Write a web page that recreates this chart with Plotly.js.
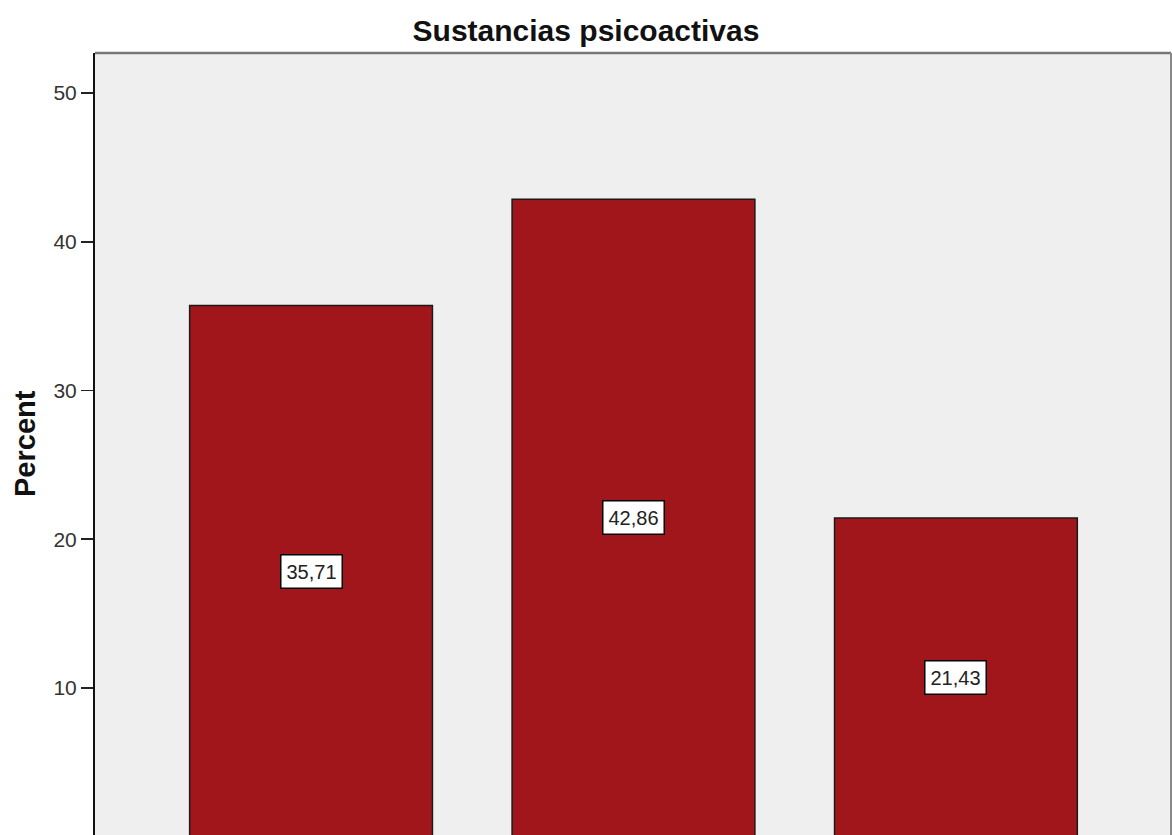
<!DOCTYPE html>
<html>
<head>
<meta charset="utf-8">
<script src="https://cdn.plot.ly/plotly-3.0.1.min.js"></script>
<style>html,body{margin:0;padding:0;overflow:hidden;background:#fff;}</style>
</head>
<body>
<div id="chart" style="width:1172px;height:835px;"></div>
<script>
const categories = ["Categoría 1", "Categoría 2", "Categoría 3"];
const percents = [35.71, 42.86, 21.43];
const yTicks = [0, 10, 20, 30, 40, 50];
const chartTitle = "Sustancias psicoactivas";
const yTitle = "Percent";

const xIdx = categories.map((c, i) => i);
const labels = percents.map(v => v.toFixed(2).replace('.', ','));
const FONT = 'Liberation Sans, Arial, sans-serif';

const trace = {
  type: 'bar',
  x: xIdx,
  y: percents,
  width: 0.753,
  marker: {color: '#A1161A', line: {color: '#1a1a1a', width: 1.5}},
  hoverinfo: 'skip'
};

const annotations = percents.map((v, i) => ({
  x: i, y: v / 2, xref: 'x', yref: 'y',
  text: labels[i], showarrow: false,
  bgcolor: '#ffffff', bordercolor: '#000000', borderwidth: 1.5, borderpad: 5,
  font: {family: FONT, size: 20, color: '#222'}
}));
annotations.push({
  xref: 'paper', yref: 'paper', x: 0, y: 0.5, xshift: -70,
  xanchor: 'center', yanchor: 'middle',
  text: '<b>' + yTitle + '</b>', textangle: -90, showarrow: false,
  font: {family: FONT, size: 29, color: '#111'}
});

const layout = {
  width: 1172, height: 835,
  margin: {l: 95, r: 1, t: 53, b: 0, pad: 0},
  paper_bgcolor: '#ffffff',
  plot_bgcolor: '#EFEFEF',
  showlegend: false,
  title: {
    text: '<b>' + chartTitle + '</b>',
    x: 0.5, xref: 'container', xanchor: 'center',
    y: 1 - 30 / 835, yref: 'container', yanchor: 'middle',
    font: {family: FONT, size: 30, color: '#111'}
  },
  xaxis: {
    type: 'linear',
    range: [-0.670, 2.667],
    showticklabels: false, ticks: '', showgrid: false, zeroline: false,
    showline: false, fixedrange: true
  },
  yaxis: {
    range: [0.1, 52.7],
    tickvals: yTicks, ticktext: yTicks.map(String),
    ticks: 'outside', ticklen: 12, tickwidth: 1.5, tickcolor: '#222',
    showgrid: false, zeroline: false,
    showline: true, linecolor: '#111', linewidth: 2,
    tickfont: {family: FONT, size: 21, color: '#333'},
    fixedrange: true
  },
  shapes: [
    {type: 'line', xref: 'paper', yref: 'paper', x0: 0, x1: 1, y0: 1, y1: 1,
     line: {color: '#777', width: 2.5}},
    {type: 'line', xref: 'paper', yref: 'paper', x0: 1, x1: 1, y0: 0, y1: 1,
     line: {color: '#888', width: 2}}
  ],
  annotations: annotations,
  bargap: 0
};

Plotly.newPlot('chart', [trace], layout, {displayModeBar: false, staticPlot: true});
</script>
</body>
</html>
